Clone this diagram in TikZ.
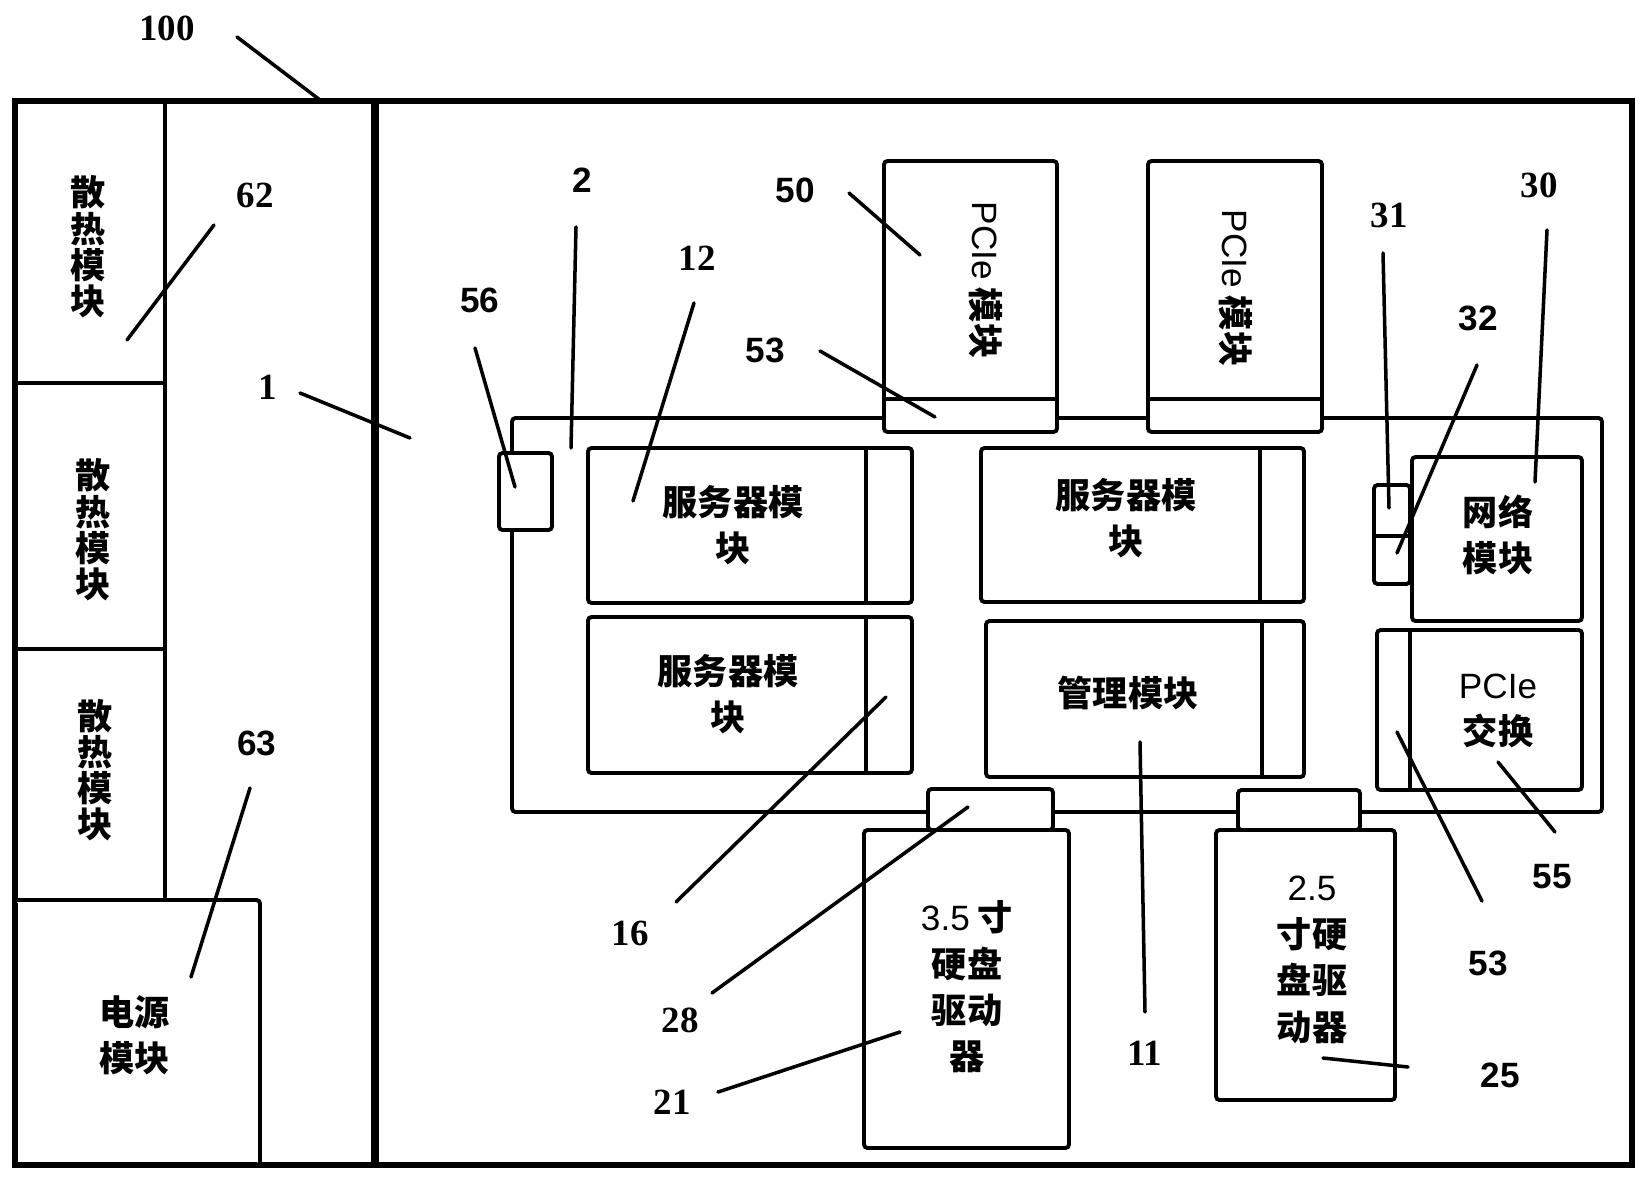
\documentclass[tikz,border=0pt]{standalone}
\usepackage{fontspec}
\newfontfamily\cjk{Noto Sans CJK SC}
\newfontfamily\numsans{Liberation Sans}
\newfontfamily\numserif{Liberation Serif}
\usetikzlibrary{positioning}
\tikzset{
    frame/.style={line width=1.5pt},
    box/.style={line width=1.1pt, rounded corners=1pt, fill=white},
    leader/.style={line width=1pt, line cap=round},
    tag/.style={font=\numsans\bfseries\fontsize{10}{12}\selectfont, inner sep=0pt},
    tagr/.style={font=\numserif\bfseries\fontsize{10.5}{12}\selectfont, inner sep=0pt},
    txt/.style={font=\cjk\bfseries\fontsize{10}{13.2}\selectfont, align=center, inner sep=0pt},
    vtxt/.style={txt, font=\cjk\bfseries\fontsize{10}{10.3}\selectfont}
}
\newcommand{\lat}[1]{{\numsans\mdseries #1}}

\begin{document}
\begin{tikzpicture}[x=0.01cm, y=-0.01cm]
    \useasboundingbox (0,0) rectangle (1648,1182);
    % Chassis
    \draw[frame] (15,101) rectangle (1632,1165);
    \draw[line width=2.2pt] (375,101) -- (375,1165);
    % Fan column and power supply
    \draw[box] (165,101) -- (165,900);
    \draw[box] (15,383) -- (165,383);
    \draw[box] (15,649) -- (165,649);
    \draw[box] (15,900) -- (260,900) -- (260,1165);
    \node[vtxt] (fan1) at (88,247) {散\\热\\模\\块};
    \node[vtxt] (fan2) at (93,530) {散\\热\\模\\块};
    \node[vtxt] (fan3) at (95,770) {散\\热\\模\\块};
    \node[txt] (psu) at (135,1035) {电源\\模块};
    % Board
    \draw[box, fill=none] (512,418) rectangle (1602,812);
    \draw[box] (499,453) rectangle (552,530);
    % Server and management modules
    \draw[box] (588,448) rectangle (912,603);
    \draw[box] (866,448) -- (866,603);
    \draw[box] (588,617) rectangle (912,773);
    \draw[box] (866,617) -- (866,773);
    \draw[box] (981,448) rectangle (1304,602);
    \draw[box] (1260,448) -- (1260,602);
    \draw[box] (986,621) rectangle (1304,777);
    \draw[box] (1262,621) -- (1262,777);
    \node[txt] (srv1) at (733,525) {服务器模\\块};
    \node[txt] (srv2) at (728,694) {服务器模\\块};
    \node[txt] (srv3) at (1126,518) {服务器模\\块};
    \node[txt] (mgmt) at (1128,693) {管理模块};
    % PCIe cards
    \draw[box] (884,161) rectangle (1057,432);
    \draw[box] (884,399) -- (1057,399);
    \draw[box] (1148,161) rectangle (1322,432);
    \draw[box] (1148,399) -- (1322,399);
    \node[txt, rotate=-90] (pcie1) at (986,280) {\lat{PCIe} 模块};
    \node[txt, rotate=-90] (pcie2) at (1236,288) {\lat{PCIe} 模块};
    % Network and PCIe switch
    \draw[box] (1374,485) rectangle (1410,584);
    \draw[box] (1374,536) -- (1410,536);
    \draw[box] (1412,457) rectangle (1582,621);
    \draw[box] (1377,630) rectangle (1582,790);
    \draw[box] (1410,630) -- (1410,790);
    \node[txt] (net) at (1498,535) {网络\\模块};
    \node[txt] (psw) at (1498,711) {\lat{PCIe}\\交换};
    % Disk drives
    \draw[box] (928,789) rectangle (1053,830);
    \draw[box] (864,830) rectangle (1069,1148);
    \draw[box] (1238,790) rectangle (1360,830);
    \draw[box] (1216,830) rectangle (1395,1100);
    \node[txt] (hdd35) at (967,987) {\lat{3.5} 寸\\硬盘\\驱动\\器};
    \node[txt] (hdd25) at (1312,960) {\lat{2.5}\\寸硬\\盘驱\\动器};
    % Reference numerals
    \node[tagr] (n100) at (167,28) {100};
    \node[tagr] (n62) at (255,195) {62};
    \node[tagr] (n1) at (268,387) {1};
    \node[tag] (n63) at (257,743) {63};
    \node[tag] (n2) at (582,180) {2};
    \node[tag] (n56) at (480,300) {56};
    \node[tagr] (n12) at (697,258) {12};
    \node[tag] (n50) at (795,190) {50};
    \node[tag] (n53a) at (765,350) {53};
    \node[tagr] (n31) at (1389,215) {31};
    \node[tag] (n32) at (1478,318) {32};
    \node[tagr] (n30) at (1539,185) {30};
    \node[tagr] (n16) at (630,933) {16};
    \node[tagr] (n28) at (680,1020) {28};
    \node[tagr] (n21) at (672,1102) {21};
    \node[tagr] (n11) at (1145,1053) {11};
    \node[tag] (n55) at (1552,877) {55};
    \node[tag] (n53b) at (1488,963) {53};
    \node[tag] (n25) at (1500,1075) {25};
    % Leader lines
    \foreach \n/\a/\b in {100/{237,37}/{320,100}, 62/{214,225}/{127,340},
        1/{300,393}/{410,438}, 63/{250,788}/{191,977}, 2/{576,227}/{571,448},
        56/{475,348}/{515,487}, 12/{694,303}/{633,501}, 50/{849,193}/{920,255},
        53a/{820,351}/{935,417}, 31/{1383,253}/{1389,508}, 32/{1477,365}/{1397,553},
        30/{1547,230}/{1535,482}, 16/{886,697}/{676,902}, 28/{968,807}/{712,993},
        21/{900,1032}/{718,1092}, 11/{1140,742}/{1145,1012}, 53b/{1397,732}/{1482,901},
        55/{1498,762}/{1555,832}, 25/{1323,1058}/{1408,1067}} {
        \coordinate (s\n) at (\a);
        \coordinate (e\n) at (\b);
        \draw[leader] (s\n) -- (e\n);
    }
\end{tikzpicture}
\end{document}
